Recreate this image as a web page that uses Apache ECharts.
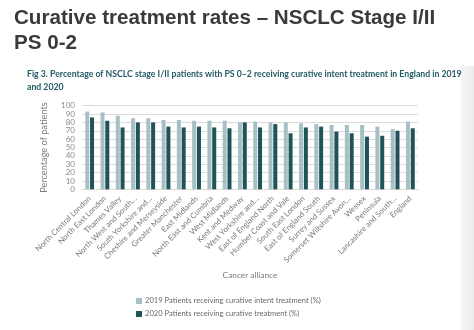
<!DOCTYPE html>
<html><head><meta charset="utf-8">
<script src="https://cdn.jsdelivr.net/npm/echarts@6/dist/echarts.min.js"></script>
<style>html,body{margin:0;padding:0;background:#fff}#c{width:474px;height:330px}</style>
</head><body><div id="c"></div>
<script>
var categories = ["North Central London","North East London","Thames Valley","North West and South…","South Yorkshire and…","Cheshire and Merseyside","Greater Manchester","East Midlands","North East and Cumbria","West Midlands","Kent and Medway","West Yorkshire and…","East of England North","Humber Coast and Vale","South East London","East of England South","Surrey and Sussex","Somerset Wiltshire Avon…","Wessex","Peninsula","Lancashire and South…","England"];
var values2019 = [93,92,88,85,85,83,83,82,82,82,80,81,80,80,79,78,77,77,77,75,72,81];
var values2020 = [86,82,74,80,80,75,74,75,74,73,80,74,78,67,74,75,69,67,63,64,70,73];
var yTicks = {min:0, max:100, interval:10};
var seriesNames = ["2019 Patients receiving curative intent treatment (%)","2020 Patients receiving curative treatment (%)"];

var chart = echarts.init(document.getElementById('c'), null, {renderer:'canvas'});
chart.setOption({
  animation:false,
  textStyle:{fontFamily:'Lato'},
  graphic:[{type:'rect',shape:{x:461,y:66,width:13,height:264},style:{fill:new echarts.graphic.LinearGradient(0,0,1,0,[{offset:0,color:'#f6f6f6'},{offset:1,color:'#ebebeb'}])},z:-1}],
  title:[
    {text:'Curative treatment rates – NSCLC Stage I/II\nPS 0-2',left:9,top:1,textStyle:{fontFamily:'Liberation Sans',fontWeight:'bold',fontSize:20.6,lineHeight:25,color:'#3a3a3a'}},
    {text:'Fig 3. Percentage of NSCLC stage I/II patients with PS 0–2 receiving curative intent treatment in England in 2019\nand 2020',left:22,top:63,textStyle:{fontFamily:'Lato',fontWeight:'bold',fontSize:8.7,lineHeight:12.5,color:'#235a66'}}
  ],
  grid:{left:82,right:56,top:105.7,bottom:140.7},
  legend:{orient:'vertical',left:131,top:292,itemWidth:6,itemHeight:6,itemGap:5,icon:'rect',
    textStyle:{fontFamily:'Lato',fontSize:7.6,color:'#6a6a6a',padding:[0,0,0,-2]},data:seriesNames},
  xAxis:{type:'category',data:categories,
    name:'Cancer alliance',nameLocation:'middle',nameGap:82,nameTextStyle:{fontFamily:'Lato',fontSize:8.3,color:'#7a7a7a'},
    axisLine:{show:true,lineStyle:{color:'#d9d9d9'}},axisTick:{show:false},
    axisLabel:{rotate:45,interval:0,fontFamily:'Lato',fontSize:7.8,color:'#7a7a7a',margin:8}},
  yAxis:{type:'value',min:yTicks.min,max:yTicks.max,interval:yTicks.interval,
    name:'Percentage of patients',nameLocation:'middle',nameGap:33,nameTextStyle:{fontFamily:'Lato',fontSize:9.2,color:'#7a7a7a'},
    axisLine:{show:false},axisTick:{show:false},
    axisLabel:{fontFamily:'Lato',fontSize:8,color:'#8a8a8a',margin:7},
    splitLine:{lineStyle:{color:'#dcdcdc',width:1}}},
  series:[
    {name:seriesNames[0],type:'bar',data:values2019,barWidth:4,barGap:'20%',itemStyle:{color:'#a7c0c6'}},
    {name:seriesNames[1],type:'bar',data:values2020,barWidth:4,itemStyle:{color:'#1f5259'}}
  ]
});
</script></body></html>
